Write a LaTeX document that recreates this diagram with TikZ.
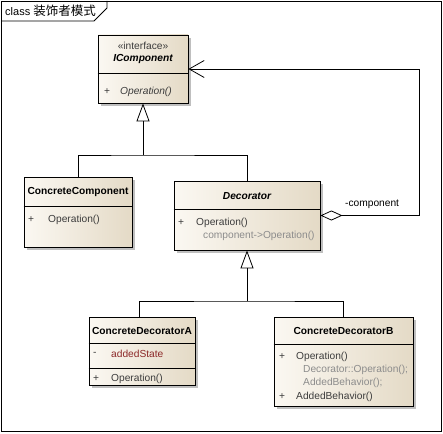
\documentclass[tikz,border=0pt]{standalone}
\usepackage{fontspec}
\setmainfont{Liberation Sans}
\newfontfamily\cjk{Noto Sans CJK SC}
\usepackage{tikz}
\usetikzlibrary{arrows.meta, shadows}

\definecolor{boxlight}{RGB}{251,248,242}
\definecolor{boxdark}{RGB}{228,218,198}
\definecolor{opgray}{RGB}{60,60,60}
\definecolor{codegray}{RGB}{140,140,140}
\definecolor{attrred}{RGB}{140,40,40}

\tikzset{
  classbox/.style={draw, line width=0.8pt, inner sep=0pt, left color=boxlight, right color=boxdark,
    general shadow={fill=black!25, shadow xshift=3pt, shadow yshift=-3pt}},
  cname/.style={font=\fontsize{10.2}{12}\selectfont\bfseries, inner sep=0pt},
  member/.style={anchor=west, inner sep=0pt, text=opgray},
  umlline/.style={line width=0.8pt}
}

\begin{document}
\begin{tikzpicture}[x=1pt, y=-1pt, font=\fontsize{10.2}{12}\selectfont]
    \useasboundingbox (0,0) rectangle (443,433);

    % Draw the frame and its title tab
    \draw[umlline] (1,1) rectangle (441,431);
    \draw[umlline] (1,21) -- (94,21) -- (107,8) -- (107,1);
    \node[anchor=west, inner sep=0pt] (title) at (5,11) {\fontsize{11}{13}\selectfont class {\cjk\fontsize{12.5}{13}\selectfont 装饰者模式}};

    % Draw the class boxes
    \node[classbox, minimum width=90pt, minimum height=68pt] (icomp) at (143,69) {};
    \node[classbox, minimum width=108pt, minimum height=70pt] (ccomp) at (78,212) {};
    \node[classbox, minimum width=146pt, minimum height=69pt] (deco) at (247,215.5) {};
    \node[classbox, minimum width=106pt, minimum height=68pt] (cda) at (142,351) {};
    \node[classbox, minimum width=139pt, minimum height=89pt] (cdb) at (343.5,361.5) {};

    % Compartment lines
    \foreach \b/\y in {icomp/73, ccomp/206, deco/209, cda/343, cda/368, cdb/344}
        \draw[umlline] (\b.west |- 0,\y) -- (\b.east |- 0,\y);

    % IComponent
    \node[inner sep=0pt, text=opgray] (icompst) at (143,46) {«interface»};
    \node[cname, font=\fontsize{10.2}{12}\selectfont\bfseries\itshape] (icompname) at (143,59) {IComponent};
    \node[member] (icompvis) at (104,92) {+};
    \node[member, font=\fontsize{10.2}{12}\selectfont\itshape] (icompop) at (120,92) {Operation()};

    % ConcreteComponent
    \node[cname] (ccompname) at (78,192) {ConcreteComponent};
    \node[member] (ccompvis) at (28,220) {+};
    \node[member] (ccompop) at (48,220) {Operation()};

    % Decorator
    \node[cname, font=\fontsize{10.2}{12}\selectfont\bfseries\itshape] (deconame) at (247,196) {Decorator};
    \node[member] (decovis) at (178,223) {+};
    \node[member] (decoop) at (196,223) {Operation()};
    \node[member, text=codegray] (decocode) at (203,236) {component->Operation()};

    % ConcreteDecoratorA
    \node[cname] (cdaname) at (142,331) {ConcreteDecoratorA};
    \node[member] (cdavis1) at (93,354) {-};
    \node[member, text=attrred] (cdaattr) at (111,354) {addedState};
    \node[member] (cdavis2) at (93,379) {+};
    \node[member] (cdaop) at (111,379) {Operation()};

    % ConcreteDecoratorB
    \node[cname] (cdbname) at (343.5,331) {ConcreteDecoratorB};
    \node[member] (cdbvis1) at (279,357) {+};
    \node[member] (cdbop1) at (296,357) {Operation()};
    \node[member, text=codegray] (cdbcode1) at (303,370) {Decorator::Operation();};
    \node[member, text=codegray] (cdbcode2) at (303,383) {AddedBehavior();};
    \node[member] (cdbvis2) at (279,397) {+};
    \node[member] (cdbop2) at (296,397) {AddedBehavior()};

    % Generalizations
    \coordinate (j1) at (143,155);
    \coordinate (j2) at (247,301);
    \draw[umlline, -{Triangle[open, length=18pt, width=13pt]}] (j1) -- (icomp.south);
    \draw[umlline] (ccomp.north) |- (j1) -| (deco.north);
    \draw[umlline, -{Triangle[open, length=18pt, width=13pt]}] (j2) -- (deco.south);
    \draw[umlline] ([xshift=-3pt]cda.north) |- (j2) -| (cdb.north);

    % Aggregation back to IComponent
    \coordinate (agg) at (419,69);
    \draw[umlline, {Diamond[open, length=22pt, width=10pt]}-{Straight Barb[length=15pt, width=17pt]}] (deco.east) -| (agg) -- (icomp.east);
    \node[anchor=west, inner sep=0pt] (rolelbl) at (345,204) {-component};
\end{tikzpicture}
\end{document}
